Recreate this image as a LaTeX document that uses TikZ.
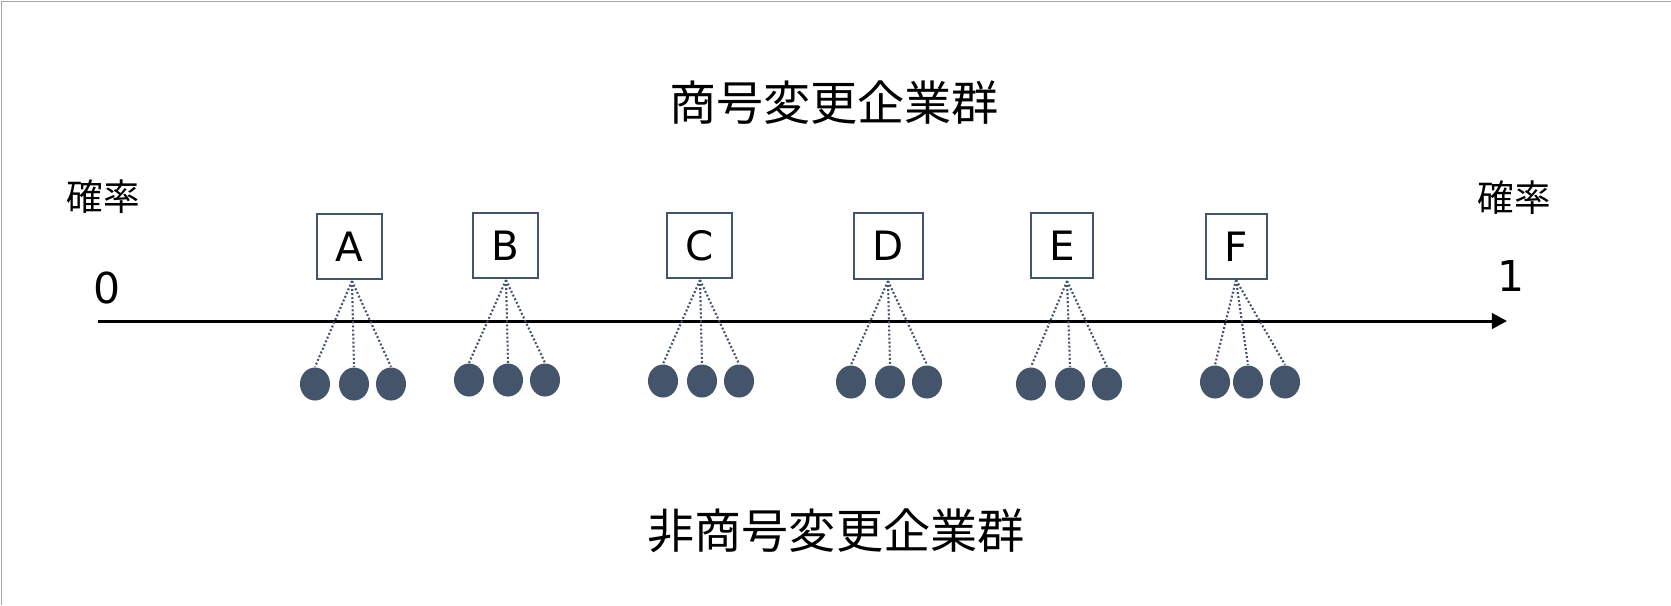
\documentclass[tikz,border=0pt]{standalone}
\usepackage{fontspec}
\setmainfont{DejaVu Sans}
\newfontfamily\jp{Noto Sans CJK JP}
\usetikzlibrary{shapes.geometric,arrows.meta}
\definecolor{slate}{HTML}{44546A}
\definecolor{framegray}{HTML}{A6A6A6}
\tikzset{
  letterbox/.style={draw=slate, line width=0.6pt, fill=white, inner sep=0pt, font=\fontsize{11.5pt}{13pt}\selectfont},
  dot/.style={ellipse, fill=slate, draw=none, minimum width=0.30cm, minimum height=0.33cm, inner sep=0pt},
  dotline/.style={draw=slate, line width=0.6pt, dash pattern=on 0.55pt off 0.6pt},
  axisline/.style={draw=black, line width=0.85pt, -{Triangle[length=4.3pt,width=4.4pt]}},
  title/.style={inner sep=0pt, font=\jp\fontsize{13.4pt}{15pt}\selectfont},
  prob/.style={inner sep=0pt, font=\jp\fontsize{10.4pt}{12pt}\selectfont},
  num/.style={inner sep=0pt, font=\fontsize{12.1pt}{14pt}\selectfont}
}
\begin{document}
\begin{tikzpicture}[x=0.01cm, y=-0.01cm]
\useasboundingbox (0,0) rectangle (1671,605);
\fill[white] (0,0) rectangle (1671,605);
\draw[framegray, line width=0.5pt] (1.5,605) -- (1.5,1.5) -- (1671,1.5);

\node[title] (top) at (834,103) {商号変更企業群};
\node[title] (bottom) at (836,531) {非商号変更企業群};
\node[prob] (probL) at (103,197) {確率};
\node[prob] (probR) at (1514,198) {確率};
\node[num] (zero) at (107,288) {0};
\node[num] (one) at (1511,276) {1};

\coordinate (axstart) at (98,321);
\coordinate (axend) at (1507,321);
\draw[axisline] (axstart) -- (axend);

\foreach \n/\bx/\by/\bw/\bh/\ax/\ay/\ca/\cb/\cc/\cy in {
  A/349.5/246.5/0.65/0.65/352/281/315/354/391/384,
  B/505.5/245.5/0.65/0.65/506/280/469/508/545/380,
  C/699.5/245.5/0.65/0.65/700/280/663/702/739/381,
  D/888.5/246/0.69/0.66/888/281/851/890/927/382,
  E/1062/245.5/0.62/0.65/1067/281/1031/1070/1107/384,
  F/1236.5/246.5/0.61/0.65/1236/280/1215/1248/1285/382} {
  \node[letterbox, minimum width=\bw cm, minimum height=\bh cm] (\n) at (\bx,\by) {\n};
  \coordinate (\n apex) at (\ax,\ay);
  \node[dot] (\n1) at (\ca,\cy) {};
  \node[dot] (\n2) at (\cb,\cy) {};
  \node[dot] (\n3) at (\cc,\cy) {};
  \draw[dotline] (\n apex) -- (\n1.north);
  \draw[dotline] (\n apex) -- (\n2.north);
  \draw[dotline] (\n apex) -- (\n3.north);
}
\end{tikzpicture}
\end{document}
